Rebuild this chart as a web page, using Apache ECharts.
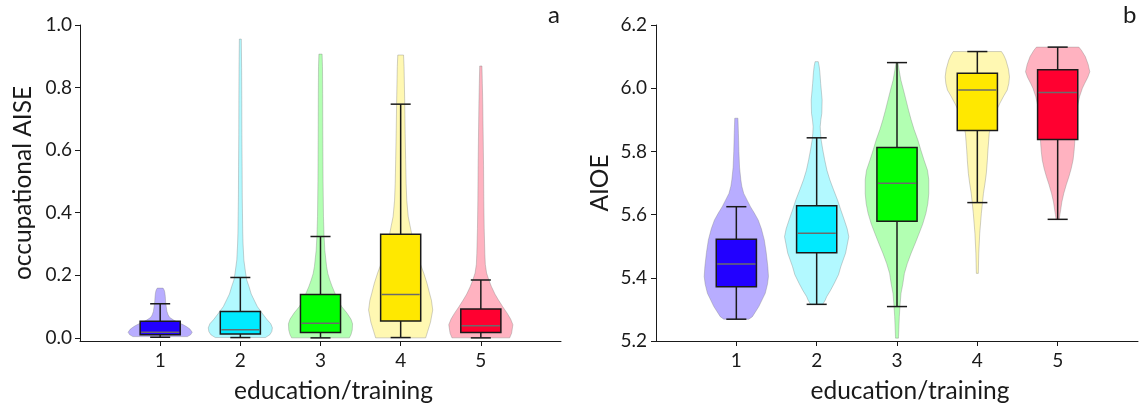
<!DOCTYPE html>
<html>
<head>
<meta charset="utf-8">
<script src="https://cdn.jsdelivr.net/npm/echarts@6/dist/echarts.min.js"></script>
<style>
  html, body { margin: 0; padding: 0; background: #fff; }
  #chart { width: 1141px; height: 404px; }
</style>
</head>
<body>
<div id="chart"></div>
<script>
// ---------------- DATA ----------------
const categories = [1, 2, 3, 4, 5];
const xTickLabels = [1, 2, 3, 4, 5];
const yTicksA = [0, 0.2, 0.4, 0.6, 0.8, 1.0];
const yTicksB = [5.2, 5.4, 5.6, 5.8, 6.0, 6.2];

// box stats: [lower whisker, Q1, median, Q3, upper whisker]
const aiseBox = [
  [0.002, 0.010, 0.018, 0.053, 0.109],
  [0.001, 0.012, 0.026, 0.084, 0.193],
  [0.000, 0.017, 0.047, 0.139, 0.324],
  [0.001, 0.054, 0.139, 0.331, 0.747],
  [0.000, 0.017, 0.039, 0.092, 0.185]
];
const aioeBox = [
  [5.269, 5.372, 5.444, 5.522, 5.625],
  [5.316, 5.479, 5.541, 5.628, 5.843],
  [5.309, 5.579, 5.699, 5.812, 6.081],
  [5.638, 5.866, 5.994, 6.047, 6.116],
  [5.585, 5.838, 5.986, 6.058, 6.130]
];

// violin density profiles: [value, relative density (1 = widest)]
const aiseViolin1 = [[0.004,0.85],[0.01,0.95],[0.018,1],[0.028,0.93],[0.036,0.82],[0.042,0.72],[0.05,0.55],[0.057,0.42],[0.065,0.3],[0.073,0.25],[0.085,0.21],[0.1,0.19],[0.115,0.17],[0.132,0.16],[0.145,0.145],[0.153,0.125],[0.159,0.09]];
const aiseViolin2 = [[0.001,0.78],[0.01,0.92],[0.02,0.98],[0.032,1],[0.045,0.95],[0.06,0.82],[0.079,0.68],[0.1,0.53],[0.121,0.43],[0.14,0.34],[0.164,0.27],[0.185,0.2],[0.207,0.165],[0.249,0.11],[0.3,0.085],[0.335,0.075],[0.45,0.06],[0.547,0.055],[0.65,0.048],[0.76,0.045],[0.86,0.04],[0.955,0.03]];
const aiseViolin3 = [[0.0,0.9],[0.01,0.95],[0.025,0.99],[0.045,1],[0.06,0.95],[0.08,0.82],[0.1,0.66],[0.12,0.55],[0.143,0.45],[0.165,0.36],[0.185,0.29],[0.205,0.23],[0.228,0.19],[0.28,0.135],[0.33,0.11],[0.388,0.093],[0.5,0.08],[0.655,0.072],[0.78,0.068],[0.867,0.062],[0.907,0.05]];
const aiseViolin4 = [[0.0,0.78],[0.02,0.84],[0.05,0.93],[0.089,1],[0.12,0.96],[0.143,0.9],[0.175,0.82],[0.207,0.72],[0.24,0.6],[0.27,0.5],[0.3,0.42],[0.334,0.34],[0.36,0.29],[0.388,0.235],[0.44,0.19],[0.494,0.17],[0.57,0.155],[0.654,0.14],[0.76,0.125],[0.867,0.105],[0.904,0.09]];
const aiseViolin5 = [[0.0,0.9],[0.015,0.96],[0.042,1],[0.06,0.93],[0.079,0.82],[0.1,0.68],[0.121,0.55],[0.14,0.44],[0.164,0.33],[0.185,0.25],[0.207,0.18],[0.235,0.14],[0.27,0.125],[0.35,0.105],[0.441,0.093],[0.55,0.085],[0.655,0.072],[0.75,0.06],[0.814,0.047],[0.869,0.035]];

const aioeViolin1 = [[5.269,0.39],[5.277,0.5],[5.309,0.7],[5.351,0.9],[5.38,0.97],[5.404,1],[5.435,0.98],[5.48,0.93],[5.52,0.87],[5.555,0.78],[5.583,0.68],[5.605,0.56],[5.625,0.44],[5.645,0.34],[5.667,0.23],[5.69,0.17],[5.71,0.14],[5.75,0.1],[5.8,0.08],[5.857,0.065],[5.905,0.05]];
const aioeViolin2 = [[5.316,0.19],[5.33,0.27],[5.34,0.31],[5.36,0.43],[5.383,0.55],[5.41,0.68],[5.435,0.75],[5.478,0.9],[5.53,1],[5.555,0.95],[5.583,0.86],[5.615,0.75],[5.646,0.65],[5.68,0.52],[5.71,0.41],[5.74,0.32],[5.773,0.25],[5.805,0.19],[5.836,0.14],[5.857,0.12],[5.878,0.11],[5.9,0.13],[5.92,0.16],[5.963,0.17],[6.015,0.125],[6.05,0.1],[6.068,0.08],[6.084,0.05]];
const aioeViolin3 = [[5.209,0.045],[5.214,0.047],[5.277,0.072],[5.32,0.1],[5.351,0.125],[5.38,0.18],[5.414,0.23],[5.445,0.32],[5.478,0.44],[5.51,0.57],[5.541,0.69],[5.57,0.8],[5.604,0.9],[5.635,0.96],[5.667,0.99],[5.71,0.99],[5.74,0.95],[5.773,0.84],[5.805,0.74],[5.836,0.65],[5.87,0.53],[5.9,0.44],[5.93,0.36],[5.963,0.28],[5.995,0.2],[6.026,0.12],[6.055,0.07],[6.081,0.03]];
const aioeViolin4 = [[5.414,0.03],[5.478,0.045],[5.541,0.075],[5.604,0.125],[5.638,0.16],[5.667,0.19],[5.7,0.24],[5.731,0.28],[5.77,0.31],[5.804,0.33],[5.83,0.35],[5.857,0.37],[5.88,0.42],[5.905,0.5],[5.931,0.6],[5.952,0.7],[5.975,0.82],[5.994,0.93],[6.015,0.98],[6.036,1],[6.06,0.97],[6.089,0.89],[6.105,0.82],[6.116,0.75]];
const aioeViolin5 = [[5.585,0.05],[5.6,0.07],[5.615,0.094],[5.64,0.13],[5.667,0.19],[5.695,0.27],[5.72,0.35],[5.745,0.42],[5.773,0.48],[5.8,0.51],[5.826,0.53],[5.87,0.55],[5.91,0.57],[5.945,0.62],[5.973,0.68],[6.0,0.77],[6.015,0.84],[6.035,0.94],[6.052,1],[6.075,0.95],[6.1,0.86],[6.12,0.74],[6.13,0.66]];

const aiseViolins = [aiseViolin1, aiseViolin2, aiseViolin3, aiseViolin4, aiseViolin5];
const aioeViolins = [aioeViolin1, aioeViolin2, aioeViolin3, aioeViolin4, aioeViolin5];

// ---------------- STYLE ----------------
const boxColors = ['#2200ff', '#00eaff', '#00ff00', '#ffe800', '#ff0030'];
const violinColors = ['rgba(34,0,255,0.32)', 'rgba(0,234,255,0.3)', 'rgba(0,255,0,0.3)', 'rgba(255,232,0,0.3)', 'rgba(255,0,48,0.3)'];
const VIOLIN_HALF = 0.4;
const BOX_HALF = 0.25;
const CAP_HALF = 0.125;
const FONT = 'Lato, "Open Sans", sans-serif';
const INK = '#1a1a1a';

function violinSeries(gridIdx, profiles, boxes) {
  return {
    type: 'custom', xAxisIndex: gridIdx, yAxisIndex: gridIdx, z: 1,
    data: categories.map((c, i) => [c, boxes[i][2]]),
    renderItem: function (params, api) {
      const i = params.dataIndex;
      const xc = api.value(0);
      const prof = profiles[i];
      const right = prof.map(p => api.coord([xc + p[1] * VIOLIN_HALF, p[0]]));
      const left = prof.slice().reverse().map(p => api.coord([xc - p[1] * VIOLIN_HALF, p[0]]));
      return {
        type: 'polygon',
        shape: { points: right.concat(left) },
        style: { fill: violinColors[i], stroke: 'rgba(120,120,120,0.35)', lineWidth: 1 }
      };
    }
  };
}

function boxSeries(gridIdx, boxes) {
  return {
    type: 'custom', xAxisIndex: gridIdx, yAxisIndex: gridIdx, z: 2,
    data: categories.map((c, i) => [c, boxes[i][2]]),
    renderItem: function (params, api) {
      const i = params.dataIndex;
      const xc = api.value(0);
      const b = boxes[i];
      const lo = api.coord([xc, b[0]]);
      const q1 = api.coord([xc, b[1]]);
      const med = api.coord([xc, b[2]]);
      const q3 = api.coord([xc, b[3]]);
      const hi = api.coord([xc, b[4]]);
      const bl = api.coord([xc - BOX_HALF, b[1]]);
      const tr = api.coord([xc + BOX_HALF, b[3]]);
      const capL = api.coord([xc - CAP_HALF, b[0]])[0];
      const capR = api.coord([xc + CAP_HALF, b[0]])[0];
      const lineStyle = { stroke: INK, lineWidth: 1.5 };
      return {
        type: 'group',
        children: [
          { type: 'line', shape: { x1: lo[0], y1: lo[1], x2: q1[0], y2: q1[1] }, style: lineStyle },
          { type: 'line', shape: { x1: q3[0], y1: q3[1], x2: hi[0], y2: hi[1] }, style: lineStyle },
          { type: 'line', shape: { x1: capL, y1: lo[1], x2: capR, y2: lo[1] }, style: lineStyle },
          { type: 'line', shape: { x1: capL, y1: hi[1], x2: capR, y2: hi[1] }, style: lineStyle },
          { type: 'rect', shape: { x: bl[0], y: tr[1], width: tr[0] - bl[0], height: bl[1] - tr[1] },
            style: { fill: boxColors[i], stroke: INK, lineWidth: 1.5 } },
          { type: 'line', shape: { x1: bl[0] + 1, y1: med[1], x2: tr[0] - 1, y2: med[1] },
            style: { stroke: '#6b6b6b', lineWidth: 1.5 } }
        ]
      };
    }
  };
}

function xAxisCfg(gridIdx) {
  return {
    gridIndex: gridIdx, type: 'value', min: 0, max: 6,
    axisLine: { show: true, onZero: false, lineStyle: { color: INK, width: 1 } },
    axisTick: { show: true, customValues: xTickLabels, length: 5, lineStyle: { color: INK } },
    axisLabel: { customValues: xTickLabels, margin: 10, fontSize: 19, color: INK, fontFamily: FONT },
    splitLine: { show: false },
    name: 'education/training', nameLocation: 'middle', nameGap: 38,
    nameTextStyle: { fontSize: 24.5, color: INK, fontFamily: FONT, padding: [0, 0, 0, 26] }
  };
}

function yAxisCfg(gridIdx, min, max, ticks, name, gap, margin) {
  return {
    gridIndex: gridIdx, type: 'value', min: min, max: max,
    axisLine: { show: true, onZero: false, lineStyle: { color: INK, width: 1 } },
    axisTick: { show: true, customValues: ticks, length: 5, lineStyle: { color: INK } },
    axisLabel: { customValues: ticks, margin: margin, fontSize: 19, color: INK, fontFamily: FONT,
      formatter: v => Number(v).toFixed(1) },
    splitLine: { show: false },
    name: name, nameLocation: 'middle', nameGap: gap,
    nameTextStyle: { fontSize: 24.5, color: INK, fontFamily: FONT }
  };
}

const chart = echarts.init(document.getElementById('chart'), null, { renderer: 'canvas' });
chart.setOption({
  backgroundColor: '#ffffff',
  animation: false,
  title: [
    { text: 'a', left: 548, top: 3, padding: 0, textStyle: { fontSize: 24, fontWeight: 'normal', color: INK, fontFamily: FONT } },
    { text: 'b', left: 1123, top: 3, padding: 0, textStyle: { fontSize: 24, fontWeight: 'normal', color: INK, fontFamily: FONT } }
  ],
  grid: [
    { left: 80, top: 25, width: 481, height: 316, outerBoundsMode: 'none', containLabel: false },
    { left: 656, top: 25, width: 482, height: 316, outerBoundsMode: 'none', containLabel: false }
  ],
  xAxis: [xAxisCfg(0), xAxisCfg(1)],
  yAxis: [
    yAxisCfg(0, -0.01, 1.0, yTicksA, 'occupational AISE', 44, 8),
    yAxisCfg(1, 5.2, 6.2, yTicksB, 'AIOE', 43, 9)
  ],
  series: [
    violinSeries(0, aiseViolins, aiseBox),
    boxSeries(0, aiseBox),
    violinSeries(1, aioeViolins, aioeBox),
    boxSeries(1, aioeBox)
  ]
});
</script>
</body>
</html>
